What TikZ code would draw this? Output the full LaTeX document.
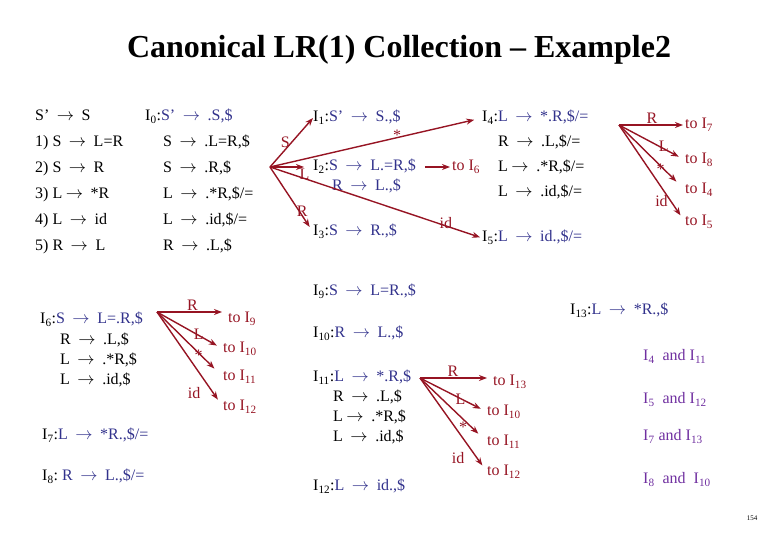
\documentclass[tikz,border=0pt]{standalone}
\usepackage{fontspec}
\setmainfont{Liberation Serif}
\usetikzlibrary{arrows.meta}
\definecolor{kblue}{RGB}{50,50,140}
\definecolor{tred} {RGB}{150,20,35}
\definecolor{npurp}{RGB}{112,48,160}
\newcommand{\Is}[1]{I\textsubscript{#1}}
\newcommand{\toarr}{\kern.22em\ensuremath{\rightarrow}\kern.22em}
\tikzset{
  % plain item text
  txt/.style={anchor=west,inner sep=0pt,text height=11pt,text depth=4pt,
              font=\fontsize{16}{19}\selectfont},
  % goto target text
  tgt/.style={txt,text=tred},
  % symbol on a transition
  sym/.style={inner sep=0pt,text=tred,font=\fontsize{16}{19}\selectfont},
  % purple remark
  note/.style={txt,text=npurp},
  % transition arrow
  tr/.style={-{Stealth[length=8pt,width=6pt]},line width=1.4pt,color=tred},
}

\begin{document}
\begin{tikzpicture}[x=1pt,y=-1pt]
\useasboundingbox (0,0) rectangle (780,540);
\node[font=\fontsize{32}{36}\selectfont\bfseries] (title) at (399,50)
{Canonical LR(1) Collection – Example2};
% ── grammar ──────────────────────────────
\node[txt] (g0) at (35,117) {S’ \toarr{} S};
\node[txt] (g1) at (35,143) {1) S \toarr{} L=R};
\node[txt] (g2) at (35,169) {2) S \toarr{} R};
\node[txt] (g3) at (35,195) {3) L\toarr{} *R};
\node[txt] (g4) at (35,221) {4) L \toarr{} id};
\node[txt] (g5) at (35,247) {5) R \toarr{} L};
% ── I0 ───────────────────────────────────
\node[txt] (I0) at (145,117) {\Is{0}:\textcolor{kblue}{S’ \toarr{} .S,\$}};
\node[txt] (I0a) at (163,143) {S \toarr{} .L=R,\$};
\node[txt] (I0b) at (163,169) {S \toarr{} .R,\$};
\node[txt] (I0c) at (163,195) {L \toarr{} .*R,\$/=};
\node[txt] (I0d) at (163,221) {L \toarr{} .id,\$/=};
\node[txt] (I0e) at (163,247) {R \toarr{} .L,\$};
% ── goto from I0 ─────────────────────────
\coordinate (o0) at (270,167);
\node[txt] (I1) at (313,118) {\Is{1}:\textcolor{kblue}{S’ \toarr{} S.,\$}};
\node[txt] (I2) at (313,167) {\Is{2}:\textcolor{kblue}{S \toarr{} L.=R,\$}};
\node[txt] (I2a) at (332,187) {\textcolor{kblue}{R \toarr{} L.,\$}};
\node[txt] (I3) at (313,232) {\Is{3}:\textcolor{kblue}{S \toarr{} R.,\$}};
\node[tgt] (toI6) at (452,167) {to \Is{6}};
\node[txt] (I4) at (482,118) {\Is{4}:\textcolor{kblue}{L \toarr{} *.R,\$/=}};
\node[txt] (I4a) at (498,143) {R \toarr{} .L,\$/=};
\node[txt] (I4b) at (498,168) {L\toarr{} .*R,\$/=};
\node[txt] (I4c) at (498,193) {L \toarr{} .id,\$/=};
\node[txt] (I5) at (482,238) {\Is{5}:\textcolor{kblue}{L \toarr{} id.,\$/=}};
\draw[tr] (o0) -- (I1.west) node[sym,pos=0.5,left=1pt] {S};
\draw[tr,shorten >=8pt] (o0) -- (I4.west) node[sym,pos=0.6,yshift=2pt] {*};
\draw[tr,shorten >=9pt] (o0) -- (I2.west) node[sym,pos=0.8,below=1pt] {L};
\draw[tr,shorten >=2pt] (o0) -- (I5.west) node[sym,pos=0.83,yshift=3pt] {id};
\draw[tr,shorten >=6pt] (o0) -- (I3.west) node[sym,pos=0.68,xshift=3pt] {R};
\draw[tr,shorten <=9pt,shorten >=2pt] (I2) -- (toI6);
% ── goto from I4 ─────────────────────────
\coordinate (o4) at (619,125);
\node[tgt] (toI7) at (685,125) {to \Is{7}};
\node[tgt] (toI8) at (685,160) {to \Is{8}};
\node[tgt] (toI4) at (685,190) {to \Is{4}};
\node[tgt] (toI5) at (685,222) {to \Is{5}};
\draw[tr,shorten >=2pt] (o4) -- (toI7.west) node[sym,midway,above=1pt] {R};
\draw[tr,shorten >=7pt] (o4) -- (toI8.west) node[sym,pos=0.68,yshift=3pt] {L};
\draw[tr,shorten >=12pt] (o4) -- (toI4.west) node[sym,pos=0.72,xshift=-6pt,yshift=3pt] {*};
\draw[tr,shorten >=8pt] (o4) -- (toI5.west) node[sym,pos=0.78,xshift=-9pt] {id};
% ── I6 ───────────────────────────────────
\node[txt] (I6) at (40,320) {\Is{6}:\textcolor{kblue}{S \toarr{} L=.R,\$}};
\node[txt] (I6a) at (60,341) {R \toarr{} .L,\$};
\node[txt] (I6b) at (60,361) {L \toarr{} .*R,\$};
\node[txt] (I6c) at (60,381) {L \toarr{} .id,\$};
\coordinate (o6) at (157,312);
\node[tgt] (toI9) at (228,319) {to \Is{9}};
\node[tgt] (toI10) at (223,349) {to \Is{10}};
\node[tgt] (toI11) at (223,377) {to \Is{11}};
\node[tgt] (toI12) at (223,407) {to \Is{12}};
\draw[tr,shorten >=6pt] (o6) -- (o6 -| toI9.west) node[sym,midway,above=1pt] {R};
\draw[tr,shorten >=7pt] (o6) -- (toI10.west) node[sym,pos=0.68,xshift=-3pt,yshift=3pt] {L};
\draw[tr,shorten >=12pt] (o6) -- (toI11.west) node[sym,pos=0.72,xshift=-6pt,yshift=4pt] {*};
\draw[tr,shorten >=9pt] (o6) -- (toI12.west) node[sym,pos=0.85,left=12pt] {id};
\node[txt] (I7) at (42,436) {\Is{7}:\textcolor{kblue}{L \toarr{} *R.,\$/=}};
\node[txt] (I8) at (42,477) {\Is{8}:\ \textcolor{kblue}{R \toarr{} L.,\$/=}};
% ── I9 .. I12 ────────────────────────────
\node[txt] (I9) at (313,292) {\Is{9}:\textcolor{kblue}{S \toarr{} L=R.,\$}};
\node[txt] (I10) at (313,334) {\Is{10}:\textcolor{kblue}{R \toarr{} L.,\$}};
\node[txt] (I11) at (313,378) {\Is{11}:\textcolor{kblue}{L \toarr{} *.R,\$}};
\node[txt] (I11a) at (333,398) {R \toarr{} .L,\$};
\node[txt] (I11b) at (333,418) {L\toarr{} .*R,\$};
\node[txt] (I11c) at (333,438) {L \toarr{} .id,\$};
\node[txt] (I12) at (313,487) {\Is{12}:\textcolor{kblue}{L \toarr{} id.,\$}};
\coordinate (o11) at (420,378);
\node[tgt] (toI13) at (493,382) {to \Is{13}};
\node[tgt] (toI10b) at (487,412) {to \Is{10}};
\node[tgt] (toI11b) at (487,442) {to \Is{11}};
\node[tgt] (toI12b) at (487,472) {to \Is{12}};
\draw[tr,shorten >=6pt] (o11) -- (o11 -| toI13.west) node[sym,pos=0.45,above=1pt] {R};
\draw[tr,shorten >=7pt] (o11) -- (toI10b.west) node[sym,pos=0.68,xshift=-5pt,yshift=2pt] {L};
\draw[tr,shorten >=12pt] (o11) -- (toI11b.west) node[sym,pos=0.72,xshift=-5pt,yshift=-3pt] {*};
\draw[tr,shorten >=8pt] (o11) -- (toI12b.west) node[sym,pos=0.85,left=12pt] {id};
% ── I13 and remarks ──────────────────────
\node[txt] (I13) at (570,311) {\Is{13}:\textcolor{kblue}{L \toarr{} *R.,\$}};
\node[note] (n1) at (643,357) {\Is{4}\ \ and \Is{11}};
\node[note] (n2) at (643,400) {\Is{5}\ \ and \Is{12}};
\node[note] (n3) at (643,437) {\Is{7} and \Is{13}};
\node[note] (n4) at (643,480) {\Is{8}\ \ and \ \Is{10}};
\node[font=\fontsize{7}{8}\selectfont] (pg) at (752,518) {154};
\end{tikzpicture}
\end{document}
